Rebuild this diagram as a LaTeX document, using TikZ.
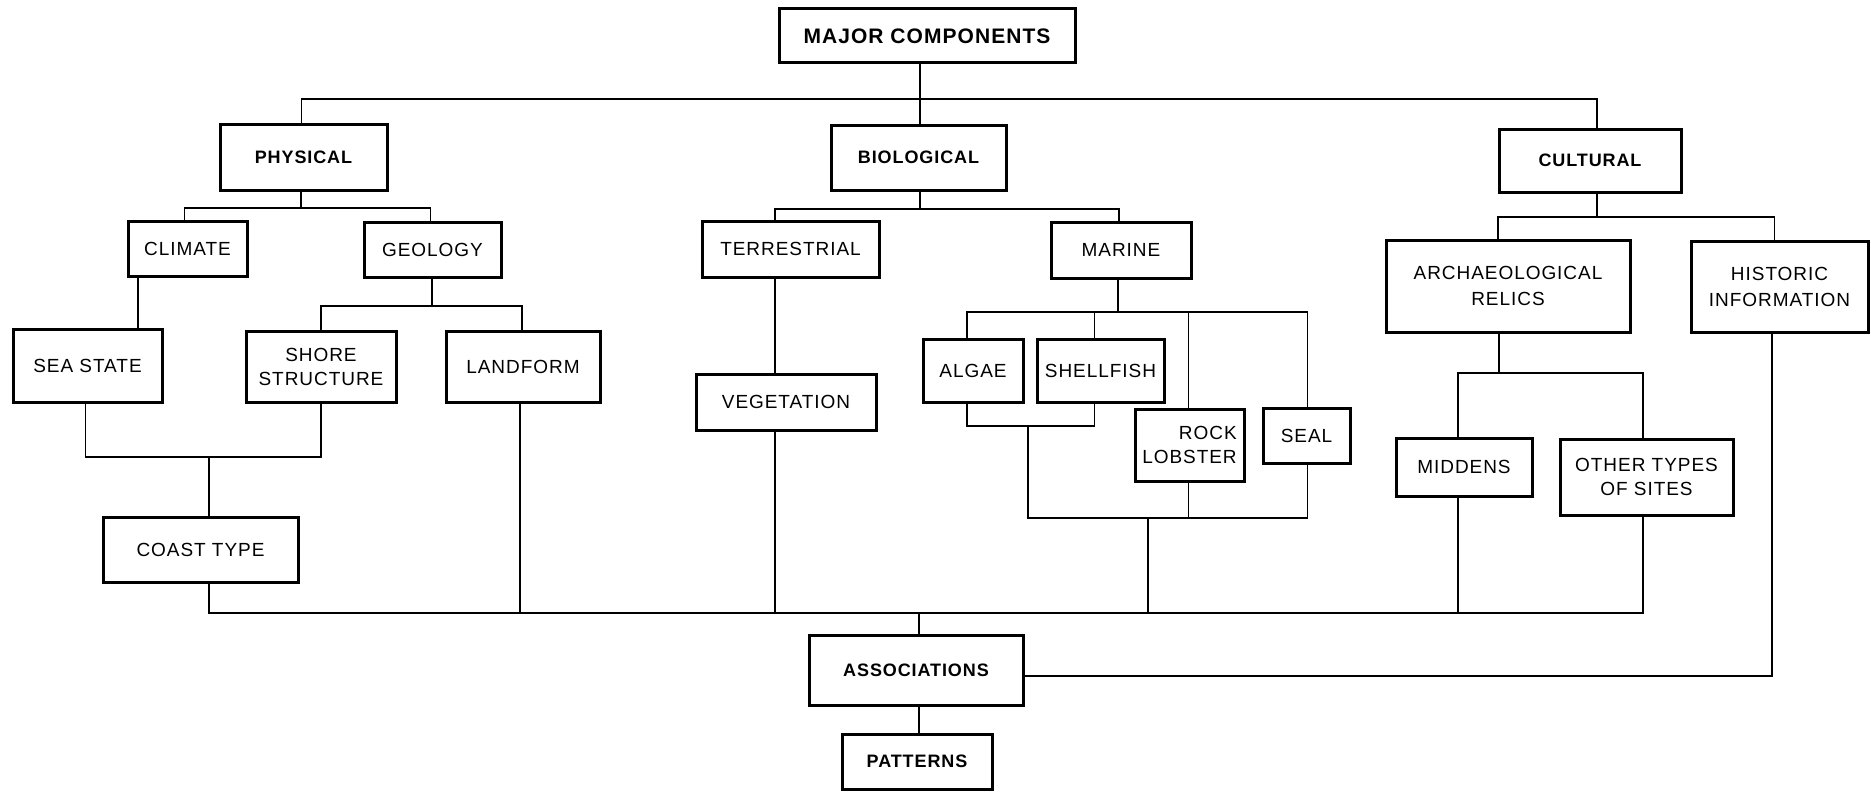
\documentclass[tikz,border=0pt]{standalone}
\usepackage{fontspec}
\setmainfont{Liberation Sans}[LetterSpace=5]
\begin{document}
\begin{tikzpicture}[x=1pt,y=-1pt,
  box/.style={draw, line width=3pt, align=center, inner sep=0pt, font=\fontsize{19}{24}\selectfont},
  bbox/.style={box, font=\fontsize{18}{24}\selectfont\bfseries},
  conn/.style={line width=1.5pt}]
\useasboundingbox (0,0) rectangle (1871,792);
% top
\node[bbox, minimum width=296, minimum height=54, font=\fontsize{21}{24}\selectfont\bfseries] (major) at (927,36) {MAJOR COMPONENTS};
\node[bbox, minimum width=167, minimum height=66] (physical) at (303.5,157) {PHYSICAL};
\node[bbox, minimum width=175, minimum height=65] (biological) at (918.5,157.5) {BIOLOGICAL};
\node[bbox, minimum width=182, minimum height=63] (cultural) at (1590,160.5) {CULTURAL};
% level 2
\node[box, minimum width=119, minimum height=55] (climate) at (187.5,248.5) {CLIMATE};
\node[box, minimum width=137, minimum height=55] (geology) at (432.5,249.5) {GEOLOGY};
\node[box, minimum width=177, minimum height=56] (terrestrial) at (790.5,249) {TERRESTRIAL};
\node[box, minimum width=140, minimum height=56] (marine) at (1121,250) {MARINE};
\node[box, minimum width=244, minimum height=92, font=\fontsize{19}{26}\selectfont] (arch) at (1508,286) {ARCHAEOLOGICAL\\RELICS};
\node[box, minimum width=177, minimum height=91, font=\fontsize{19}{26}\selectfont] (historic) at (1779.5,286.5) {HISTORIC\\INFORMATION};
% level 3
\node[box, minimum width=149, minimum height=73] (seastate) at (87.5,365.5) {SEA STATE};
\node[box, minimum width=150, minimum height=71] (shore) at (321,366.5) {SHORE\\STRUCTURE};
\node[box, minimum width=154, minimum height=71] (landform) at (523,366.5) {LANDFORM};
\node[box, minimum width=180, minimum height=56] (vegetation) at (786,402) {VEGETATION};
\node[box, minimum width=100, minimum height=63] (algae) at (973,370.5) {ALGAE};
\node[box, minimum width=127, minimum height=63] (shellfish) at (1100.5,370.5) {SHELLFISH};
\node[box, minimum width=109, minimum height=72, align=right] (rocklobster) at (1189.5,445) {ROCK\\LOBSTER};
\node[box, minimum width=87, minimum height=55] (seal) at (1306.5,435.5) {SEAL};
\node[box, minimum width=136, minimum height=58] (middens) at (1464,467) {MIDDENS};
\node[box, minimum width=173, minimum height=76] (other) at (1646.5,477) {OTHER TYPES\\OF SITES};
\node[box, minimum width=195, minimum height=65] (coast) at (200.5,549.5) {COAST TYPE};
\node[bbox, minimum width=214, minimum height=70] (assoc) at (916,670) {ASSOCIATIONS};
\node[bbox, minimum width=150, minimum height=55] (patterns) at (917,761.5) {PATTERNS};
% junctions
\coordinate (j0) at (920,99);
\coordinate (j1) at (301,208);
\coordinate (k1) at (138,0);
\coordinate (j2) at (432,306);
\coordinate (j3) at (209,457);
\coordinate (bus) at (919,613);
\coordinate (k2) at (775,0);
\coordinate (j4) at (920,209);
\coordinate (j5) at (1118,312);
\coordinate (j6) at (1028,426);
\coordinate (j7) at (1148,518);
\coordinate (j8) at (1597,217);
\coordinate (j9) at (1499,373);
\coordinate (k3) at (1458,0);
\coordinate (k4) at (1643,0);
\coordinate (k5) at (1772,0);
% connectors
\draw[conn] (major.south -| j0) -- (biological.north -| j0);
\draw[conn] ([xshift=-2pt]physical.north) |- (j0) -| ([xshift=7pt]cultural.north);
\draw[conn] (physical.south -| j1) -- (j1);
\draw[conn] ([xshift=-3pt]climate.north) |- (j1) -| ([xshift=-2pt]geology.north);
\draw[conn] (climate.south -| k1) -- (seastate.north -| k1);
\draw[conn] (geology.south -| j2) -- (j2);
\draw[conn] (shore.north) |- (j2) -| ([xshift=-1pt]landform.north);
\draw[conn] ([xshift=-2pt]seastate.south) |- (j3) -| (shore.south);
\draw[conn] (j3) -- (coast.north -| j3);
\draw[conn] (coast.south -| j3) |- (bus) -| (other.south -| k4);
\draw[conn] ([xshift=-3pt]landform.south) -- ([xshift=-3pt]landform.south |- bus);
\draw[conn] (biological.south -| j4) -- (j4);
\draw[conn] (terrestrial.north -| k2) |- (j4) -| ([xshift=-2pt]marine.north);
\draw[conn] (terrestrial.south -| k2) -- (vegetation.north -| k2);
\draw[conn] (vegetation.south -| k2) -- (bus -| k2);
\draw[conn] (marine.south -| j5) -- (j5);
\draw[conn] ([xshift=-6pt]algae.north) |- (j5) -| ([xshift=1pt]seal.north);
\draw[conn] ([xshift=-6pt]shellfish.north) -- ([xshift=-6pt]shellfish.north |- j5);
\draw[conn] ([xshift=-1pt]rocklobster.north) -- ([xshift=-1pt]rocklobster.north |- j5);
\draw[conn] ([xshift=-6pt]algae.south) |- (j6) -| ([xshift=-6pt]shellfish.south);
\draw[conn] (j6) |- (j7) -| ([xshift=1pt]seal.south);
\draw[conn] ([xshift=-1pt]rocklobster.south) -- ([xshift=-1pt]rocklobster.south |- j7);
\draw[conn] (j7) -- (j7 |- bus);
\draw[conn] ([xshift=7pt]cultural.south) -- (j8);
\draw[conn] ([xshift=-10pt]arch.north) |- (j8) -| ([xshift=-5pt]historic.north);
\draw[conn] (arch.south -| j9) -- (j9);
\draw[conn] (middens.north -| k3) |- (j9) -| (other.north -| k4);
\draw[conn] (middens.south -| k3) -- (bus -| k3);
\draw[conn] (historic.south -| k5) |- ([yshift=-6pt]assoc.east);
\draw[conn] (bus) -- (assoc.north -| bus);
\draw[conn] (assoc.south -| bus) -- (patterns.north -| bus);
\end{tikzpicture}
\end{document}
